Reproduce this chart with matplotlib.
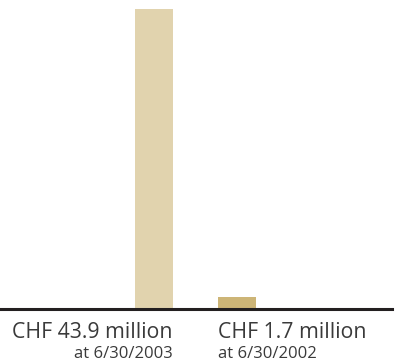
import matplotlib
matplotlib.use("Agg")
import matplotlib.pyplot as plt
from matplotlib.transforms import blended_transform_factory

# Values in CHF million
values = [43.9, 1.7]
labels = ["CHF 43.9 million", "CHF 1.7 million"]
dates = ["at 6/30/2003", "at 6/30/2002"]
colors = ["#e1d3ae", "#cdb577"]

plt.rcParams["font.family"] = ["Open Sans", "DejaVu Sans"]

fig = plt.figure(figsize=(3.96, 3.63), dpi=100)
# axes bottom sits on the baseline rule
ax = fig.add_axes([0, 54 / 363, 1, 309 / 363])

xpos = [0, 1]
bar_w = 38 / 83
ax.bar(xpos, values, width=bar_w, color=colors, zorder=1)
ax.set_xlim(-154 / 83, 242 / 83)
ax.set_ylim(0, 43.9 * 309 / 300)
ax.axhline(0, xmin=0, xmax=392 / 396, color="#231f20", lw=2.2, zorder=2, clip_on=False)
ax.axis("off")

tr = blended_transform_factory(ax.transData, fig.transFigure)
# first label hangs right from its bar edge, second starts at its bar edge
anchors = [(xpos[0] + bar_w / 2, "right"), (xpos[1] - bar_w / 2, "left")]
for (x, ha), lab, d in zip(anchors, labels, dates):
    ax.text(x, 1 - 338 / 363, lab, transform=tr, ha=ha, va="baseline",
            fontsize=15.3, color="#3a3a3a", clip_on=False)
    ax.text(x, 1 - 358 / 363, d, transform=tr, ha=ha, va="baseline",
            fontsize=12, color="#3a3a3a", clip_on=False)

fig.savefig("out.png", dpi=100)
